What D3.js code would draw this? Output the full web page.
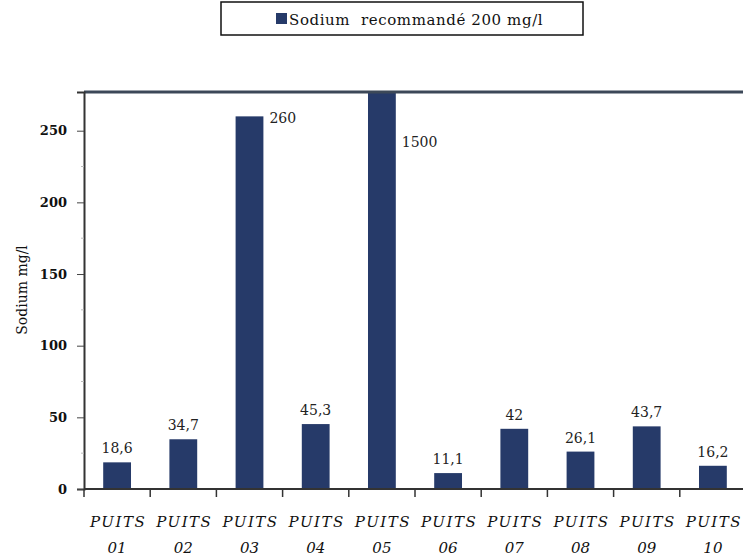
<!DOCTYPE html>
<html>
<head>
<meta charset="utf-8">
<script src="https://cdn.jsdelivr.net/npm/d3@7"></script>
<style>
  html, body { margin: 0; padding: 0; background: #fff; }
  svg { display: block; }
</style>
</head>
<body>
<svg id="chart" width="743" height="557"></svg>
<script>
// Sodium concentration per well (mg/l)
const wells = ["01", "02", "03", "04", "05", "06", "07", "08", "09", "10"];
const wellPrefix = "PUITS";
const sodium = [18.6, 34.7, 260, 45.3, 1500, 11.1, 42, 26.1, 43.7, 16.2];
const valueLabels = ["18,6", "34,7", "260", "45,3", "1500", "11,1", "42", "26,1", "43,7", "16,2"];
const yTicks = [0, 50, 100, 150, 200, 250];
const yMinorTicks = [25, 75, 125, 175, 225];
const legendLabel = "Sodium  recommandé 200 mg/l";
const yTitle = "Sodium mg/l";

const barColor = "#263a69";
const serif = "DejaVu Serif";

const svg = d3.select("#chart");
const m = { left: 84, right: 746, top: 92, bottom: 489 };

const x = d3.scaleBand().domain(wells).range([m.left, m.right]).paddingInner(0.58).paddingOuter(0.29);
const xEdges = d3.scaleBand().domain(wells).range([m.left, m.right]).padding(0);
const y = d3.scaleLinear().domain([0, 277]).range([m.bottom, m.top]).clamp(true);

// Bars (values above the axis range are cut at the frame)
svg.append("g").selectAll("rect").data(sodium).join("rect")
  .attr("x", (d, i) => x(wells[i]))
  .attr("width", x.bandwidth())
  .attr("y", d => y(d))
  .attr("height", d => m.bottom - y(d))
  .attr("fill", barColor);

// Value labels: above short bars, beside the tall ones
const yMax = y.domain()[1];
svg.append("g").selectAll("text").data(sodium).join("text")
  .attr("font-family", serif)
  .attr("font-size", 14)
  .attr("fill", "#222")
  .attr("text-anchor", d => d > 250 ? "start" : "middle")
  .attr("x", (d, i) => d > 250 ? x(wells[i]) + x.bandwidth() + 6 : x(wells[i]) + x.bandwidth() / 2)
  .attr("y", d => d > yMax ? y(250) + 16 : d > 250 ? y(d) + 7 : y(d) - 9)
  .text((d, i) => valueLabels[i]);

// Frame: top border, left axis, baseline
svg.append("line").attr("x1", m.left).attr("x2", 743).attr("y1", m.top).attr("y2", m.top)
  .attr("stroke", "#3c4858").attr("stroke-width", 3);

const yAxis = d3.axisLeft(y).tickValues(yTicks).tickSize(7).tickPadding(10).tickFormat(d3.format("d"));
const gy = svg.append("g").attr("transform", `translate(${m.left},0)`).call(yAxis);
gy.attr("font-family", serif).attr("font-size", 13).attr("font-weight", "bold");
gy.select(".domain").attr("stroke", "#333").attr("stroke-width", 2);
gy.selectAll(".tick line").attr("stroke", "#444").attr("stroke-width", 1);
gy.selectAll(".tick text").attr("fill", "#111");

svg.append("g").selectAll("line").data(yMinorTicks).join("line")
  .attr("x1", m.left - 3).attr("x2", m.left).attr("y1", d => y(d)).attr("y2", d => y(d))
  .attr("stroke", "#bbb").attr("stroke-width", 1);

// Bottom axis with ticks at band boundaries
svg.append("line").attr("x1", m.left).attr("x2", 743).attr("y1", m.bottom).attr("y2", m.bottom)
  .attr("stroke", "#333").attr("stroke-width", 2);
svg.append("g").selectAll("line").data(wells).join("line")
  .attr("x1", d => xEdges(d)).attr("x2", d => xEdges(d))
  .attr("y1", m.bottom).attr("y2", m.bottom + 8)
  .attr("stroke", "#333").attr("stroke-width", 1.5);

// Category labels on two lines
const xl = svg.append("g").selectAll("text").data(wells).join("text")
  .attr("font-family", serif).attr("font-size", 15).attr("font-style", "italic")
  .attr("fill", "#111").attr("text-anchor", "middle")
  .attr("x", d => x(d) + x.bandwidth() / 2);
xl.append("tspan").attr("x", d => x(d) + x.bandwidth() / 2 + 1).attr("y", 527).attr("letter-spacing", 1.5).text(wellPrefix);
xl.append("tspan").attr("x", d => x(d) + x.bandwidth() / 2).attr("y", 553).text(d => d);

// Y axis title
svg.append("text")
  .attr("transform", "translate(27,290) rotate(-90)")
  .attr("text-anchor", "middle")
  .attr("font-family", serif).attr("font-size", 14).attr("fill", "#111")
  .text(yTitle);

// Legend
const lg = svg.append("g");
lg.append("rect").attr("x", 221).attr("y", 2).attr("width", 362).attr("height", 33)
  .attr("fill", "#fff").attr("stroke", "#111").attr("stroke-width", 1.5);
lg.append("rect").attr("x", 276).attr("y", 13).attr("width", 11).attr("height", 11).attr("fill", barColor);
lg.append("text").attr("x", 289).attr("y", 25)
  .attr("font-family", serif).attr("font-size", 15).attr("fill", "#111")
  .attr("letter-spacing", 0.6)
  .style("white-space", "pre")
  .text(legendLabel);
</script>
</body>
</html>
